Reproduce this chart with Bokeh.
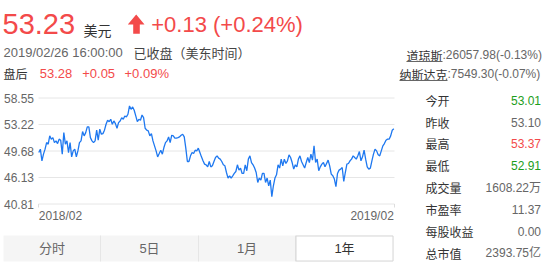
from bokeh.plotting import figure
from bokeh.models import Range1d, ColumnDataSource
from bokeh.core.properties import value
from bokeh.embed import file_html
from bokeh.resources import INLINE
import numpy as np

# ---------------- data ----------------
closes = [
    49.42, 49.99, 48.04, 49.15, 49.99, 51.09, 50.82, 52.21, 51.66, 51.92,
    51.09, 51.37, 50.92, 51.66, 51.49, 49.15, 52.76, 50.82, 51.37, 49.42,
    51.09, 48.70, 49.70, 49.99, 48.70, 49.70, 51.09, 51.37, 52.93, 52.21,
    52.76, 53.71, 53.71, 51.92, 51.37, 51.09, 51.37, 53.16, 51.49, 53.33,
    52.49, 52.59, 53.16, 54.16, 54.83, 54.59, 54.99, 54.16, 54.71, 54.26,
    53.49,
    54.43, 54.71, 55.26, 54.99, 55.55, 55.38, 55.83, 57.22, 56.66, 57.05,
    56.50, 55.55, 54.59, 54.99, 54.83, 55.71, 55.26, 53.49, 53.16, 53.04,
    52.21, 52.59, 51.37, 50.54, 49.70, 48.70, 49.25, 49.82, 49.15, 50.26,
    51.09, 51.37, 52.04, 51.09, 52.32, 52.21, 51.82, 51.82, 51.92, 52.04,
    52.32, 52.49, 52.04, 50.15, 47.92, 47.92, 48.87, 49.42, 49.25, 49.82,
    49.70, 50.15, 49.42, 48.70, 48.04, 47.48, 47.37, 47.03,
    47.92, 47.03, 47.20, 47.92, 48.59, 48.87, 48.49, 48.32, 47.92, 47.37,
    47.20, 46.08, 45.15, 45.53, 45.15, 45.53, 45.92, 46.25, 47.37, 46.48,
    46.82, 45.92, 45.92, 47.37, 46.37, 48.32, 48.87, 47.75, 47.37, 46.82,
    46.08, 44.41, 45.15, 44.81, 45.92, 45.92, 44.41, 45.15, 43.86, 44.81,
    42.03, 43.86, 45.15, 45.70, 47.37, 46.82, 48.32, 47.20, 48.32, 47.59,
    48.04, 49.04, 48.59, 47.75, 46.65,
    47.37, 47.03, 48.32, 48.87, 47.92, 47.37, 46.82, 47.75, 48.59, 47.75,
    49.15, 48.15, 50.54, 47.75, 48.32, 46.37, 47.03, 47.48, 47.75, 47.03,
    47.59, 48.15, 47.20, 45.82, 45.53, 44.98, 43.70, 45.92, 46.48, 46.65,
    46.92, 44.58, 46.08, 47.48, 47.59, 48.04, 48.32, 48.87, 48.59, 48.32,
    48.87, 49.59, 48.04, 48.70, 49.82, 48.32, 47.03, 46.65, 46.82, 48.04,
    49.15, 49.99, 49.70, 49.04, 48.87, 49.70, 50.54, 50.92, 51.49, 51.66,
    51.66, 52.21, 53.16, 53.40,
]
x_labels = ["2018/02", "2019/02"]
y_tick_labels = ["58.55", "53.22", "49.68", "46.13", "40.81"]

price = "53.23"
currency = "美元"
change = "+0.13 (+0.24%)"
timestamp = "2019/02/26 16:00:00"
status = "已收盘（美东时间）"
after_label = "盘后"
after_values = ["53.28", "+0.05", "+0.09%"]
index_names = ["道琼斯", "纳斯达克"]
index_values = [":26057.98(-0.13%)", ":7549.30(-0.07%)"]
stat_names = ["今开", "昨收", "最高", "最低", "成交量", "市盈率", "每股收益", "总市值"]
stat_values = ["53.01", "53.10", "53.37", "52.91", "1608.22万", "11.37", "0.00", "2393.75亿"]
stat_kinds = ["down", "flat", "up", "down", "flat", "flat", "flat", "flat"]
tab_labels = ["分时", "5日", "1月", "1年"]
selected_tab = 3

# ---------------- style ----------------
RED = "#f34a4a"
GREEN = "#1c9e1c"
GRAY = "#666666"
DARK = "#333333"
LINE = "#1e78f0"
GRID = "#e6e6e6"
LAT = "Liberation Sans"
CJK = "Noto Sans CJK SC"
MIX = "Liberation Sans, Noto Sans CJK SC"
kind_color = {"up": RED, "down": GREEN, "flat": GRAY}

W, H = 554, 270
n = len(closes)
# plot area of the price chart (canvas px)
PL, PR = 38, 394
x0_px, x1_px = 38.3, 393.3
y_top_px, y_bot_px = 97.5, 203.5
ppi = (x1_px - x0_px) / (n - 1)
v_top, v_bot = float(y_tick_labels[0]), float(y_tick_labels[-1])
ppu = (y_bot_px - y_top_px) / (v_top - v_bot)

p = figure(width=W, height=H, output_backend="svg", toolbar_location=None,
           x_axis_type=None, y_axis_type=None,
           x_range=Range1d(0, W), y_range=Range1d(H, 0),
           min_border=0, min_border_left=0, min_border_right=0,
           min_border_top=0, min_border_bottom=0,
           outline_line_color=None, background_fill_color="white",
           border_fill_color="white")
p.extra_x_ranges = {"idx": Range1d(-x0_px / ppi, (n - 1) + (W - x1_px) / ppi)}
p.extra_y_ranges = {"val": Range1d(v_bot - (H - y_bot_px) / ppu, v_top + y_top_px / ppu)}

# grid rows (evenly spaced, labelled as on the page)
tick_pos = [float(v) for v in np.linspace(v_top, v_bot, len(y_tick_labels))]
p.segment(x0=[PL] * len(tick_pos), x1=[PR] * len(tick_pos), y0=tick_pos, y1=tick_pos,
          y_range_name="val", line_color=GRID, line_width=1)
p.segment(x0=[PL, PR], x1=[PL, PR], y0=[v_bot, v_bot], y1=[v_bot - 3.5 / ppu] * 2,
          y_range_name="val", line_color="#dddddd", line_width=1)
p.text(x=[33.5] * len(tick_pos), y=tick_pos, text=y_tick_labels, y_range_name="val",
       text_align="right", text_baseline="middle", text_font=value(LAT),
       text_font_size="12px", text_color=GRAY)

# price line
src = ColumnDataSource(dict(i=list(range(n)), close=closes))
p.line("i", "close", source=src, x_range_name="idx", y_range_name="val",
       line_color=LINE, line_width=1.3)

# date labels at the two ends
p.text(x=[0], y=[215.5], text=[x_labels[0]], x_range_name="idx", text_align="left",
       text_baseline="middle", text_font=value(LAT), text_font_size="12px",
       text_color=GRAY)
p.text(x=[n - 1], y=[215.5], text=[x_labels[1]], x_range_name="idx", text_align="right",
       text_baseline="middle", text_font=value(LAT), text_font_size="12px",
       text_color=GRAY)


def txt(t, cx, cy, size, color, align="left", font=MIX):
    p.text(x=[cx], y=[cy], text=[t], text_align=align, text_baseline="middle",
           text_font=value(font), text_font_size=f"{size}px", text_color=color)


# header
txt(price, 2, 23.0, 29, RED, font=LAT)
txt(currency, 83, 29.5, 14, DARK, font=CJK)
p.patch(x=[127.3, 135.7, 144.0, 139.3, 139.3, 132.7, 132.7],
        y=[24.0, 14.0, 24.0, 24.0, 33.3, 33.3, 24.0],
        fill_color=RED, line_color=None)
txt(change, 150.7, 24.3, 22, RED, font=LAT)
txt(timestamp, 3, 51.7, 13, GRAY, font=LAT)
txt(status, 133, 51.7, 13, "#444444", font=CJK)
txt(after_label, 3, 72.5, 12, DARK, font=CJK)
for t, cx in zip(after_values, [39.3, 81.7, 124]):
    txt(t, cx, 72.5, 13, RED, font=LAT)

# index quotes (top right)
for name, val, cx, cy in zip(index_names, index_values, [442, 447], [54.5, 73.5]):
    txt(name, cx, cy, 12, DARK, align="right", font=CJK)
    txt(val, cx, cy, 12, GRAY, font=LAT)
    p.segment(x0=[cx - 12 * len(name)], x1=[cx], y0=[cy + 6.5], y1=[cy + 6.5],
              line_color=GRAY, line_width=1)

# stats panel
for k, (nm, vl, kd) in enumerate(zip(stat_names, stat_values, stat_kinds)):
    cy = 99.6 + k * 21.9
    txt(nm, 425, cy, 12, DARK, font=CJK)
    txt(vl, 540.5, cy, 12, kind_color[kd], align="right")

# tabs
tab_edges = [3, 100, 198, 295, 393]
p.quad(left=[tab_edges[0]], right=[tab_edges[-1]], top=[235], bottom=[261],
       fill_color="#f5f5f5", line_color=None)
for e in tab_edges[1:-1]:
    p.segment(x0=[e], x1=[e], y0=[235], y1=[261], line_color="#e6e6e6", line_width=1)
p.quad(left=[tab_edges[selected_tab] + 0.5], right=[tab_edges[selected_tab + 1] - 0.5],
       top=[235.5], bottom=[260.5], fill_color="white", line_color="#d6d6d6", line_width=1)
for k, t in enumerate(tab_labels):
    cx = (tab_edges[k] + tab_edges[k + 1]) / 2
    txt(t, cx, 247.5, 13, DARK if k == selected_tab else GRAY, align="center")

open("out.html", "w").write(file_html(p, INLINE))
